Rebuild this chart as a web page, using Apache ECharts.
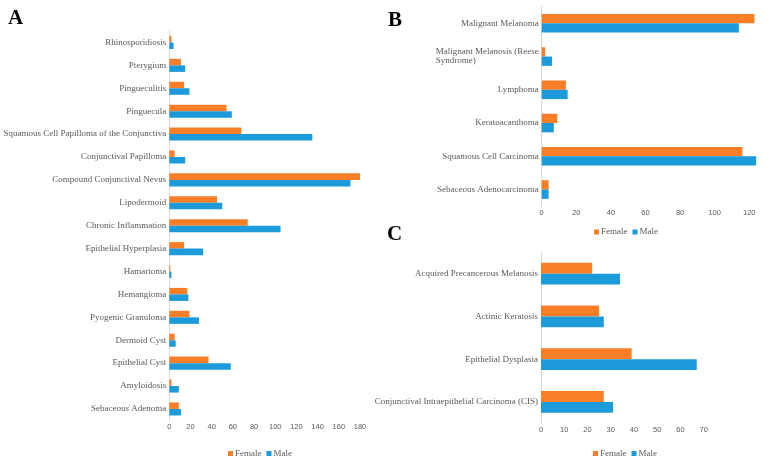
<!DOCTYPE html>
<html>
<head>
<meta charset="utf-8">
<script src="https://cdn.jsdelivr.net/npm/echarts@6/dist/echarts.min.js"></script>
<style>html,body{margin:0;padding:0;background:#fff}#c{width:765px;height:463px}</style>
</head>
<body>
<div id="c"></div>
<script>
// Panel A (benign lesions), listed bottom to top
const catsA = ['Sebaceous Adenoma','Amyloidosis','Epithelial Cyst','Dermoid Cyst','Pyogenic Granuloma','Hemangioma','Hamartoma','Epithelial Hyperplasia','Chronic Inflammation','Lipodermoid','Compound Conjunctival Nevus','Conjunctival Papilloma','Squamous Cell Papilloma of the Conjunctiva','Pinguecula','Pingueculitis','Pterygium','Rhinosporidiosis'];
const femaleA = [9,2,37,5,19,17,1,14,74,45,180,5,68,54,14,11,2];
const maleA   = [11,9,58,6,28,18,2,32,105,50,171,15,135,59,19,15,4];
const ticksA = [0,180,20];

// Panel B (malignant lesions)
const catsB = ['Sebaceous Adenocarcinoma','Squamous Cell Carcinoma','Keratoacanthoma','Lymphoma','Malignant Melanosis (Reese Syndrome)','Malignant Melanoma'];
const femaleB = [4,116,9,14,2,123];
const maleB   = [4,124,7,15,6,114];
const ticksB = [0,125,20];

// Panel C (premalignant lesions)
const catsC = ['Conjunctival Intraepithelial Carcinoma (CIS)','Epithelial Dysplasia','Actinic Keratosis','Acquired Precancerous Melanosis'];
const femaleC = [27,39,25,22];
const maleC   = [31,67,27,34];
const ticksC = [0,70,10];

const seriesNames = ['Female','Male'];
const colors = ['#F97E28','#1C9AD9'];

const serif = 'Liberation Serif';
const sans = 'Liberation Sans';
const grey = '#595959';

function xAx(idx, t){
  return {type:'value', gridIndex:idx, min:t[0], max:t[1], interval:t[2],
    axisLine:{show:false}, axisTick:{show:false}, splitLine:{show:false},
    axisLabel:{fontFamily:sans, fontSize:7.5, color:grey, margin:3, showMaxLabel: t[1] % t[2] === 0}};
}
function yAx(idx, cats){
  return {type:'category', gridIndex:idx, data:cats,
    axisLine:{show:true, lineStyle:{color:'#d9d9d9', width:1}}, axisTick:{show:false},
    axisLabel:{fontFamily:serif, fontSize:9, color:grey, margin:3, interval:0,
      formatter: function(v){
        if (v === 'Malignant Melanosis (Reese Syndrome)') return '{l|Malignant Melanosis (Reese}\n{l|Syndrome)}';
        return v;
      },
      rich:{l:{align:'left', fontFamily:serif, fontSize:9, color:grey, lineHeight:9}}
    }};
}
function barS(name, idx, data, color, gap){
  return {name:name, type:'bar', xAxisIndex:idx, yAxisIndex:idx, data:data,
    itemStyle:{color:color}, barGap:'0%', barCategoryGap:gap, animation:false};
}
function leg(left, top){
  return {data:seriesNames, left:left, top:top, orient:'horizontal', itemWidth:5, itemHeight:5, itemGap:5,
    icon:'rect', textStyle:{fontFamily:serif, fontSize:9, color:grey, padding:[0,0,0,-3]}};
}

const option = {
  animation:false,
  color: colors,
  title:[
    {text:'A', left:3, top:3, textStyle:{fontFamily:serif, fontWeight:'bold', fontSize:21, color:'#000'}},
    {text:'B', left:383, top:5, textStyle:{fontFamily:serif, fontWeight:'bold', fontSize:21, color:'#000'}},
    {text:'C', left:382, top:219, textStyle:{fontFamily:serif, fontWeight:'bold', fontSize:21, color:'#000'}}
  ],
  legend:[leg(223,444), leg(589,222.5), leg(588,444)],
  grid:[
    {left:169.3, top:31, width:190.7, height:389.4},
    {left:541.7, top:6.7, width:216.2, height:199.4},
    {left:541, top:252.3, width:162.7, height:171}
  ],
  xAxis:[xAx(0,ticksA), xAx(1,ticksB), xAx(2,ticksC)],
  yAxis:[yAx(0,catsA), yAx(1,catsB), yAx(2,catsC)],
  series:[
    barS('Female',0,femaleA,colors[0],'43%'), barS('Male',0,maleA,colors[1],'43%'),
    barS('Female',1,femaleB,colors[0],'44%'), barS('Male',1,maleB,colors[1],'44%'),
    barS('Female',2,femaleC,colors[0],'49%'), barS('Male',2,maleC,colors[1],'49%')
  ]
};
const chart = echarts.init(document.getElementById('c'), null, {renderer:'canvas'});
chart.setOption(option);
</script>
</body>
</html>
